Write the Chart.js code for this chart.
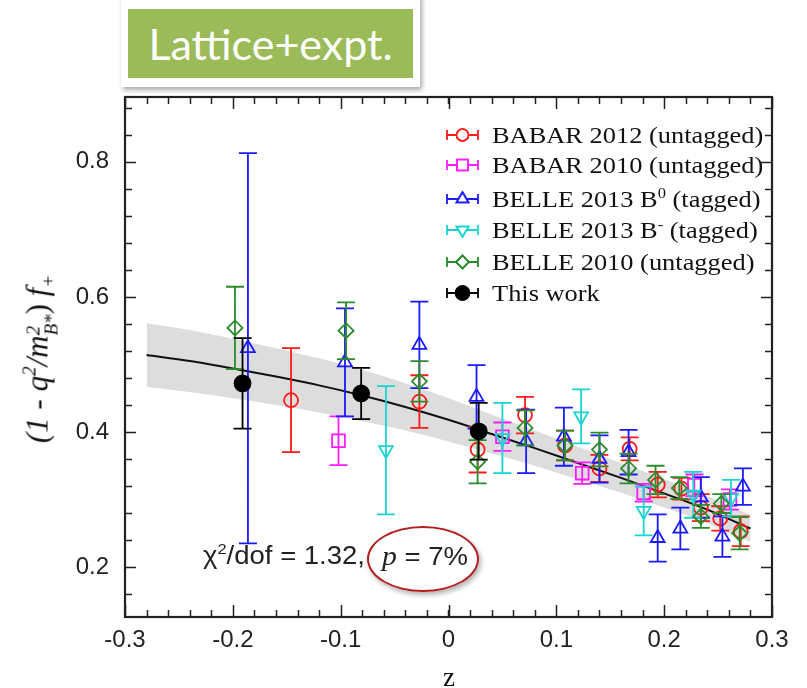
<!DOCTYPE html>
<html>
<head>
<meta charset="utf-8">
<script src="https://cdn.jsdelivr.net/npm/chart.js@4.4.0/dist/chart.umd.min.js"></script>
<style>
  body { margin: 0; background: #fff; }
  #wrap { position: relative; width: 807px; height: 688px; overflow: hidden; }
  #plot { position: absolute; left: 0; top: 0; }
  .tagOuter { position: absolute; left: 121px; top: -6px; width: 299px; height: 93px; background: #fff;
              box-shadow: 2px 3px 5px rgba(0,0,0,0.35); }
  .tag { position: absolute; left: 128px; top: 9px; width: 285px; height: 69px; background: #9bbb59;
         color: #fff; font: 43px Lato, "Open Sans", sans-serif; line-height: 69px; text-align: center; }
  .legend { position: absolute; left: 445px; top: 0; }
  .legend .row { position: absolute; left: 0; height: 30px; white-space: nowrap; }
  .legend canvas { position: absolute; left: 0; top: 7px; }
  .legend span { position: absolute; left: 47px; top: 0; font: 24px "Liberation Serif", serif; color: #111;
                 line-height: 30px; transform: scaleX(1.1); transform-origin: left center; }
  .legend sup { font-size: 15px; vertical-align: 9px; line-height: 0; }
  .ytitle { position: absolute; left: 40px; top: 359px; transform: translate(-50%, -50%) rotate(-90deg);
            font: italic 31px "Liberation Serif", serif; color: #111; white-space: nowrap; }
  .ytitle .up { font-style: normal; }
  .ytitle sub { font-size: 19px; vertical-align: -7px; line-height: 0; }
  .ytitle sup { font-size: 19px; vertical-align: 12px; line-height: 0; }
  .ytitle .stack { display: inline-block; vertical-align: -10px; font-size: 19px; line-height: 18px; text-align: left; }
  .xtitle { position: absolute; left: 449px; top: 677px; transform: translate(-50%, -50%);
            font: 27px "Liberation Serif", serif; color: #111; }
  .chi { position: absolute; top: 541px; font: 25px "Liberation Sans", Arial, sans-serif; color: #222;
         white-space: nowrap; transform: scaleX(1.1); transform-origin: left center; }
  .chi sup { font-size: 15px; vertical-align: 10px; line-height: 0; }
  .chi i { font: italic 27px "Liberation Serif", serif; }
  .ring { position: absolute; left: 367px; top: 526px; width: 108px; height: 62px; border: 2.5px solid #b21e1e;
          border-radius: 50%; box-shadow: 2px 3px 5px rgba(0,0,0,0.3); }
</style>
</head>
<body>
<div id="wrap">
  <canvas id="plot" width="807" height="688"></canvas>
  <div class="tagOuter"></div>
  <div class="tag">Lattice+expt.</div>
  <div class="legend" id="legend"></div>
  <div class="ytitle">(<span>1</span> <span class="up">-</span> q<sup>2</sup>/m<span class="stack">2<br>B*</span><span class="up">)</span> f<sub>+</sub></div>
  <div class="xtitle">z</div>
  <div class="ring"></div>
  <div class="chi" style="left:203px">&chi;<sup>2</sup>/dof = 1.32,</div>
  <div class="chi" style="left:382px"><i>p</i> = 7%</div>
</div>
<script>
// axis ticks
const xTicks = [-0.3, -0.2, -0.1, 0, 0.1, 0.2, 0.3];
const yTicks = [0.2, 0.4, 0.6, 0.8];

// fit curve with its error band
const fitZ = [-0.28, -0.24, -0.20, -0.16, -0.12, -0.08, -0.04, 0.00, 0.04, 0.08, 0.12, 0.16, 0.20, 0.24, 0.28];
const fitF = [0.514, 0.505, 0.494, 0.482, 0.469, 0.454, 0.437, 0.418, 0.397, 0.376, 0.354, 0.332, 0.309, 0.285, 0.257];
const bandHi = [0.561, 0.551, 0.538, 0.524, 0.509, 0.492, 0.472, 0.450, 0.426, 0.402, 0.378, 0.354, 0.330, 0.305, 0.277];
const bandLo = [0.467, 0.459, 0.450, 0.440, 0.429, 0.416, 0.402, 0.386, 0.368, 0.350, 0.330, 0.310, 0.288, 0.265, 0.237];

// BABAR 2012 (untagged)
const babar12Z = [-0.146, -0.027, 0.027, 0.071, 0.108, 0.140, 0.168, 0.194, 0.216, 0.234, 0.252, 0.271];
const babar12F = [0.447, 0.445, 0.374, 0.425, 0.380, 0.346, 0.375, 0.322, 0.316, 0.288, 0.272, 0.253];
const babar12E = [0.077, 0.039, 0.034, 0.027, 0.022, 0.020, 0.017, 0.019, 0.016, 0.020, 0.018, 0.022];

// BABAR 2010 (untagged)
const babar10Z = [-0.102, 0.050, 0.124, 0.181, 0.228, 0.261];
const babar10F = [0.387, 0.393, 0.339, 0.310, 0.321, 0.300];
const babar10E = [0.036, 0.021, 0.016, 0.013, 0.016, 0.015];

// BELLE 2013 B0 (tagged)
const belle13b0Z = [-0.186, -0.096, -0.027, 0.026, 0.072, 0.107, 0.140, 0.167, 0.194, 0.215, 0.234, 0.254, 0.273];
const belle13b0F = [0.524, 0.503, 0.529, 0.452, 0.386, 0.393, 0.360, 0.370, 0.243, 0.257, 0.303, 0.245, 0.319];
const belle13b0E = [0.289, 0.080, 0.064, 0.047, 0.047, 0.043, 0.035, 0.033, 0.035, 0.031, 0.030, 0.030, 0.027];

// BELLE 2013 B- (tagged)
const belle13bmZ = [-0.058, 0.050, 0.123, 0.181, 0.227, 0.262];
const belle13bmF = [0.373, 0.391, 0.423, 0.283, 0.307, 0.302];
const belle13bmE = [0.095, 0.052, 0.040, 0.036, 0.034, 0.027];

// BELLE 2010 (untagged)
const belle10Z = [-0.198, -0.095, -0.027, 0.027, 0.071, 0.108, 0.140, 0.167, 0.192, 0.214, 0.234, 0.253, 0.270];
const belle10F = [0.554, 0.550, 0.475, 0.356, 0.406, 0.380, 0.374, 0.346, 0.329, 0.317, 0.275, 0.294, 0.250];
const belle10E = [0.061, 0.042, 0.030, 0.032, 0.026, 0.022, 0.025, 0.022, 0.021, 0.016, 0.017, 0.014, 0.024];

// This work
const thisZ = [-0.191, -0.081, 0.028];
const thisF = [0.472, 0.457, 0.401];
const thisE = [0.067, 0.038, 0.042];

const pts = (zs, fs) => zs.map((z, i) => ({ x: z, y: fs[i] }));

const series = [
  { label: 'BABAR 2012 (untagged)', z: babar12Z, f: babar12F, e: babar12E, color: '#ff1a1a', style: 'circle', r: 7, rot: 0 },
  { label: 'BABAR 2010 (untagged)', z: babar10Z, f: babar10F, e: babar10E, color: '#ff1aff', style: 'rect', r: 9, rot: 0 },
  { label: 'BELLE 2013 B<sup>0</sup> (tagged)', z: belle13b0Z, f: belle13b0F, e: belle13b0E, color: '#1a1aff', style: 'triangle', r: 8, rot: 0 },
  { label: 'BELLE 2013 B<sup>-</sup> (tagged)', z: belle13bmZ, f: belle13bmF, e: belle13bmE, color: '#17d4d4', style: 'triangle', r: 8, rot: 180 },
  { label: 'BELLE 2010 (untagged)', z: belle10Z, f: belle10F, e: belle10E, color: '#2a8c2a', style: 'rectRot', r: 7.5, rot: 0 },
  { label: 'This work', z: thisZ, f: thisF, e: thisE, color: '#000000', style: 'circle', r: 8, rot: 0, filled: true }
];

const datasets = series.map((s, i) => ({
  label: s.label,
  data: pts(s.z, s.f),
  yErr: s.e,
  order: 6 - i,
  pointStyle: s.style,
  pointRadius: s.r,
  pointRotation: s.rot,
  pointBorderWidth: 1.8,
  pointBorderColor: s.color,
  pointBackgroundColor: s.filled ? s.color : 'rgba(0,0,0,0)',
  borderColor: s.color,
  showLine: false
}));

datasets.push(
  { label: 'band', data: pts(fitZ, bandHi), order: 20, showLine: true, pointRadius: 0, borderWidth: 0,
    fill: '+1', backgroundColor: '#dddddd', cubicInterpolationMode: 'monotone' },
  { label: 'bandLo', data: pts(fitZ, bandLo), order: 21, showLine: true, pointRadius: 0, borderWidth: 0,
    fill: false, cubicInterpolationMode: 'monotone' },
  { label: 'fit', data: pts(fitZ, fitF), order: 10, showLine: true, pointRadius: 0, borderWidth: 2,
    borderColor: '#111', fill: false, cubicInterpolationMode: 'monotone' }
);

// vertical error bars with caps, drawn right after each dataset
const errorBars = {
  id: 'errorBars',
  afterDatasetDraw(chart, args) {
    const ds = chart.data.datasets[args.index];
    if (!ds.yErr) return;
    const { ctx, scales: { x, y } } = chart;
    ctx.save();
    ctx.strokeStyle = ds.borderColor;
    ctx.lineWidth = 1.8;
    ctx.beginPath();
    ds.data.forEach((p, i) => {
      const px = x.getPixelForValue(p.x);
      const hi = y.getPixelForValue(p.y + ds.yErr[i]);
      const lo = y.getPixelForValue(p.y - ds.yErr[i]);
      ctx.moveTo(px, hi); ctx.lineTo(px, lo);
      ctx.moveTo(px - 9, hi); ctx.lineTo(px + 9, hi);
      ctx.moveTo(px - 9, lo); ctx.lineTo(px + 9, lo);
    });
    ctx.stroke();
    ctx.restore();
  }
};

// box frame with inward ticks on all four sides
const frameTicks = {
  id: 'frameTicks',
  afterDraw(chart) {
    const { ctx, chartArea: a, scales: { x, y } } = chart;
    const xMinor = [], yMinor = [];
    for (let v = -0.28; v < 0.3; v += 0.02) xMinor.push(v);
    for (let v = 0.16; v < 0.9; v += 0.04) yMinor.push(v);
    ctx.save();
    ctx.strokeStyle = '#222';
    ctx.lineWidth = 1.5;
    ctx.beginPath();
    const xt = (v, len) => {
      const px = Math.round(x.getPixelForValue(v)) + 0.5;
      ctx.moveTo(px, a.bottom); ctx.lineTo(px, a.bottom - len);
      ctx.moveTo(px, a.top); ctx.lineTo(px, a.top + len);
    };
    const yt = (v, len) => {
      const py = Math.round(y.getPixelForValue(v)) + 0.5;
      ctx.moveTo(a.left, py); ctx.lineTo(a.left + len, py);
      ctx.moveTo(a.right, py); ctx.lineTo(a.right - len, py);
    };
    xMinor.forEach(v => xt(v, 7));
    xTicks.forEach(v => xt(v, 12));
    yMinor.forEach(v => yt(v, 7));
    yTicks.forEach(v => yt(v, 11));
    ctx.stroke();
    ctx.lineWidth = 2.2;
    ctx.strokeRect(a.left, a.top, a.right - a.left, a.bottom - a.top);
    ctx.restore();
  }
};

new Chart(document.getElementById('plot'), {
  type: 'scatter',
  data: { datasets },
  options: {
    responsive: false,
    animation: false,
    layout: { padding: { top: 97, right: 35, left: 0, bottom: 0 } },
    plugins: { legend: { display: false }, tooltip: { enabled: false } },
    scales: {
      x: {
        type: 'linear', min: -0.3, max: 0.3,
        afterBuildTicks: s => { s.ticks = xTicks.map(v => ({ value: v })); },
        afterFit: s => { s.height = 71; },
        grid: { display: false, drawTicks: false },
        border: { display: false },
        ticks: { padding: 9, color: '#222', font: { family: 'Liberation Sans', size: 24 },
                 callback: v => String(Math.round(v * 10) / 10) }
      },
      y: {
        type: 'linear', min: 0.126, max: 0.896,
        afterBuildTicks: s => { s.ticks = yTicks.map(v => ({ value: v })); },
        afterFit: s => { s.width = 125; },
        grid: { display: false, drawTicks: false },
        border: { display: false },
        ticks: { padding: 16, color: '#222', font: { family: 'Liberation Sans', size: 24 },
                 callback: v => v.toFixed(1) }
      }
    }
  },
  plugins: [errorBars, frameTicks]
});

// legend rows: horizontal error bar with the series marker
const legendTops = [120, 150, 184, 215, 247, 278];
const legend = document.getElementById('legend');
series.forEach((s, i) => {
  const row = document.createElement('div');
  row.className = 'row';
  row.style.top = legendTops[i] + 'px';
  const c = document.createElement('canvas');
  c.width = 36; c.height = 16;
  const g = c.getContext('2d');
  g.strokeStyle = s.color; g.lineWidth = 1.8;
  g.beginPath();
  g.moveTo(2, 8); g.lineTo(33, 8);
  g.moveTo(2, 3); g.lineTo(2, 13);
  g.moveTo(33, 3); g.lineTo(33, 13);
  g.stroke();
  g.fillStyle = s.filled ? s.color : '#fff';
  Chart.helpers.drawPoint(g, { pointStyle: s.style, radius: s.r * 0.85, rotation: s.rot, borderWidth: 1.8 }, 17.5, 8);
  g.fill();
  g.stroke();
  row.appendChild(c);
  const t = document.createElement('span');
  t.innerHTML = s.label;
  row.appendChild(t);
  legend.appendChild(row);
});
</script>
</body>
</html>
